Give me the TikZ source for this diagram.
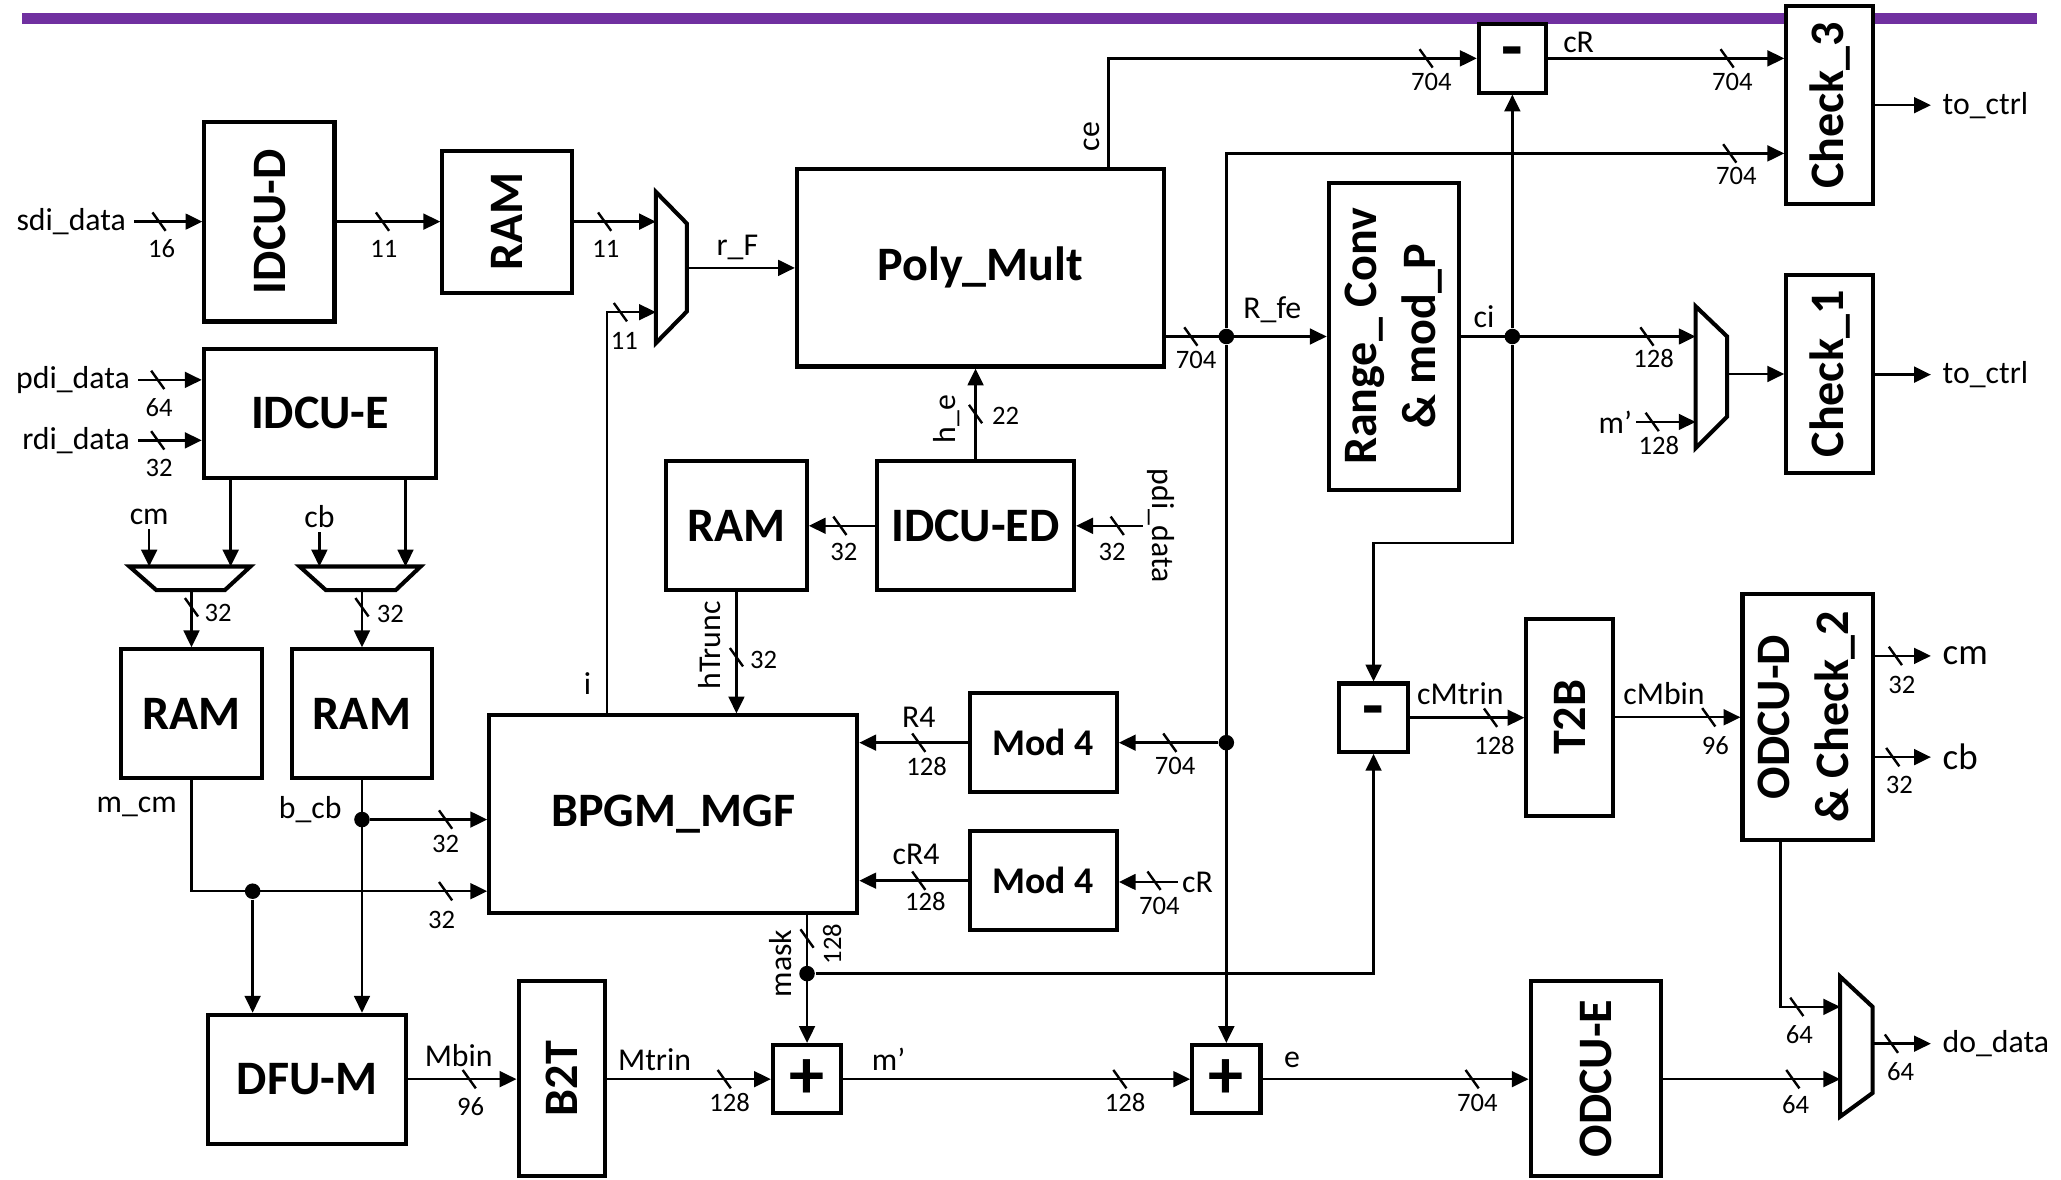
\documentclass[tikz,border=0pt]{standalone}
\usepackage{fontspec}
\setmainfont{Carlito}
\usetikzlibrary{arrows.meta, calc}
\definecolor{barpurple}{RGB}{112,48,160}
\newcommand{\bustick}[2]{\draw[wire] (#1,#2) ++(-5,-7) -- ++(10,14);}

\begin{document}
\begin{tikzpicture}[
    x=0.0125cm, y=-0.0125cm, >={Triangle[length=1.6mm, width=1.5mm]},
    wire/.style={line width=0.65pt},
    blk/.style={draw, line width=1.1pt, fill=white, inner sep=0pt, align=center, font=\fontsize{13}{16}\selectfont\bfseries},
    sz/.style 2 args={minimum width=#1*0.0125cm, minimum height=#2*0.0125cm},
    op/.style={blk, font=\fontsize{19}{20}\selectfont\bfseries},
    mux/.style={draw, line width=1.1pt, fill=white},
    sig/.style={inner sep=1pt, font=\fontsize{8.6}{10}\selectfont},
    wd/.style={inner sep=0.5pt, font=\fontsize{7.2}{8.5}\selectfont},
    lin/.style={sig, anchor=east, inner xsep=2pt},
    lout/.style={sig, anchor=west, inner xsep=3pt},
    dot/.style={circle, fill, inner sep=0pt, minimum size=4.2pt}
]
\useasboundingbox (0,0) rectangle (1568,897);
\fill[barpurple] (17,9.6) rectangle (1550,18.3);

\node[blk, sz={99}{152}] (idcud) at (205,168.6) {\rotatebox{90}{IDCU-D}};
\node[blk, sz={99}{108}] (ramd) at (386,168.6) {\rotatebox{90}{RAM}};
\node[blk, sz={177}{98}] (idcue) at (243.5,314.5) {IDCU-E};
\node[blk, sz={279}{150}] (poly) at (745.8,203.8) {Poly\_Mult};
\node[blk, sz={107}{98}] (rame) at (560.3,400) {RAM};
\node[blk, sz={150}{98}] (idcued) at (742.2,400) {IDCU-ED};
\node[blk, sz={99}{234}] (rng) at (1060.4,256) {\rotatebox{90}{\begin{tabular}{@{}c@{}}Range\_ Conv\\\& mod\_P\end{tabular}}};
\node[op, sz={51}{52}] (subc) at (1150.6,44.4) {-};
\node[blk, sz={66}{151}] (chk3) at (1392,80) {\rotatebox{90}{Check\_3}};
\node[blk, sz={66}{150}] (chk1) at (1392,284.5) {\rotatebox{90}{Check\_1}};
\node[blk, sz={107}{98}] (ramm) at (145.7,543) {RAM};
\node[blk, sz={107}{98}] (ramb) at (275.4,543) {RAM};
\node[blk, sz={280}{150}] (bpgm) at (512.2,619.3) {BPGM\_MGF};
\node[blk, sz={112}{75}, font=\fontsize{10.2}{12}\selectfont\bfseries] (moda) at (793.7,565) {Mod 4};
\node[blk, sz={112}{75}, font=\fontsize{10.2}{12}\selectfont\bfseries] (modb) at (793.7,670) {Mod 4};
\node[blk, sz={151}{98}] (dfum) at (233.6,821) {DFU-M};
\node[blk, sz={66}{149}] (b2t) at (427.5,820.5) {\rotatebox{90}{B2T}};
\node[op, sz={52}{52}] (adda) at (614,821) {+};
\node[op, sz={52}{52}] (addb) at (933,821) {+};
\node[blk, sz={99}{149}] (odcue) at (1214,820.5) {\rotatebox{90}{ODCU-E}};
\node[op, sz={52}{52}] (subb) at (1045,546) {-};
\node[blk, sz={66}{150}] (t2b) at (1194.3,545.7) {\rotatebox{90}{T2B}};
\node[blk, sz={99}{187}] (odcud) at (1375.2,545.5) {\rotatebox{90}{\begin{tabular}{@{}c@{}}ODCU-D\\\& Check\_2\end{tabular}}};

% muxes
\draw[mux] (499,146) -- (522.5,170) -- (522.5,237) -- (499,261) -- cycle;
\coordinate (m1a) at (499,168.6);
\coordinate (m1b) at (499,237.5);
\coordinate (m1o) at (522.5,203.8);
\draw[mux] (1290,233) -- (1314,256) -- (1314,317) -- (1290,341) -- cycle;
\coordinate (m2a) at (1290,256);
\coordinate (m2b) at (1290,321);
\coordinate (m2o) at (1314,284.5);
\draw[mux] (1400,743) -- (1424.7,766) -- (1424.7,831.5) -- (1400,849.5) -- cycle;
\coordinate (m3a) at (1400,766);
\coordinate (m3b) at (1400,821);
\coordinate (m3o) at (1424.7,794);
\draw[mux] (98.5,431) -- (190.5,431) -- (171,449) -- (119,449) -- cycle;
\coordinate (mcma) at (113.5,431);
\coordinate (mcmb) at (175.5,431);
\coordinate (mcmo) at (145.7,449);
\draw[mux] (228,431) -- (320,431) -- (301,449) -- (248,449) -- cycle;
\coordinate (mcba) at (243,431);
\coordinate (mcbb) at (308.5,431);
\coordinate (mcbo) at (275.4,449);

\coordinate (ibend) at (462,237.5);
\coordinate (cebend) at (843.3,44.4);
\coordinate (c3in) at (1392,116.7);
\coordinate (cibend) at (1045,413.3);

\node[dot] (drfe) at (933,256) {};
\node[dot] (dmod) at (933,565) {};
\node[dot] (dci) at (1150.6,256) {};
\node[dot] (dm) at (192.2,678) {};
\node[dot] (db) at (275.4,623.5) {};
\node[dot] (dmask) at (614,740.7) {};

% signal names
\node[lin] (sdi) at (102,168.6) {sdi\_data};
\node[lin] (pdi) at (105,289) {pdi\_data};
\node[lin] (rdi) at (105,335) {rdi\_data};
\node[sig] (rf) at (561,188) {r\_F};
\node[sig, rotate=90] (ce) at (831,104) {ce};
\node[sig] (rfe) at (968,236) {R\_fe};
\node[sig] (crtop) at (1201,32) {cR};
\node[sig] (ci) at (1129,241) {ci};
\node[lin, inner xsep=1pt] (mp2) at (1245,321) {m’};
\node[lout] (toc3) at (1469,80) {to\_ctrl};
\node[lout] (toc1) at (1469,285) {to\_ctrl};
\node[sig] (cmin) at (113.5,393) {cm};
\node[sig] (cbin) at (243,393) {cb};
\node[sig, rotate=90] (he) at (720,319) {h\_e};
\node[sig, rotate=-90] (pdied) at (883,400) {pdi\_data};
\node[sig, rotate=90] (htr) at (540,491) {hTrunc};
\node[sig] (ilbl) at (447,520) {i};
\node[sig] (mcm) at (104,614) {m\_cm};
\node[sig] (bcb) at (236,616) {b\_cb};
\node[sig] (rfour) at (699,546) {R4};
\node[sig] (crfour) at (697,650) {cR4};
\node[sig] (crin) at (911,671) {cR};
\node[sig, rotate=90] (mask) at (594,733) {mask};
\node[sig] (mbin) at (349,803) {Mbin};
\node[sig] (mtrin) at (498,806) {Mtrin};
\node[sig] (mp) at (676,806) {m’};
\node[sig] (esig) at (983,806) {e};
\node[sig] (cmtrin) at (1111,528) {cMtrin};
\node[sig] (cmbin) at (1266,528) {cMbin};
\node[lout, font=\fontsize{10}{12}\selectfont] (cmout) at (1469,499) {cm};
\node[lout, font=\fontsize{10}{12}\selectfont] (cbout) at (1469,576) {cb};
\node[lout] (dodata) at (1469,794) {do\_data};

% bus widths
\bustick{121}{168.6} \node[wd] (w1) at (123,189) {16};
\bustick{291}{168.6} \node[wd] (w2) at (292,189) {11};
\bustick{460}{168.6} \node[wd] (w3) at (461,189) {11};
\bustick{472}{237.5} \node[wd] (w4) at (475,259) {11};
\bustick{120}{289} \node[wd] (w5) at (121,310) {64};
\bustick{120}{335} \node[wd] (w6) at (121,356) {32};
\bustick{145.7}{462} \node[wd] (w7) at (166,466) {32};
\bustick{275.4}{462} \node[wd] (w8) at (297,467) {32};
\bustick{339}{623.5} \node[wd] (w9) at (339,642) {32};
\bustick{339}{678} \node[wd] (w10) at (336,700) {32};
\bustick{357}{821} \node[wd] (w11) at (358,842) {96};
\bustick{551}{821} \node[wd] (w12) at (555,839) {128};
\bustick{852}{821} \node[wd] (w13) at (856,839) {128};
\bustick{1120}{821} \node[wd] (w14) at (1124,839) {704};
\bustick{1364}{821} \node[wd] (w15) at (1366,840) {64};
\bustick{1367}{766} \node[wd] (w16) at (1369,787) {64};
\bustick{1439}{794} \node[wd] (w17) at (1446,815) {64};
\bustick{1442}{499} \node[wd] (w18) at (1447,521) {32};
\bustick{1440}{576} \node[wd] (w19) at (1445,597) {32};
\bustick{1134}{546} \node[wd] (w20) at (1137,567) {128};
\bustick{1300}{545.7} \node[wd] (w21) at (1305,567) {96};
\bustick{614}{714} \node[wd, rotate=90] (w22) at (633,718) {128};
\bustick{699}{565} \node[wd] (w23) at (705,583) {128};
\bustick{699}{670} \node[wd] (w24) at (704,686) {128};
\bustick{890}{565} \node[wd] (w25) at (894,583) {704};
\bustick{878}{670} \node[wd] (w26) at (882,689) {704};
\bustick{639}{400} \node[wd] (w27) at (642,420) {32};
\bustick{850}{400} \node[wd] (w28) at (846,420) {32};
\bustick{742.2}{315} \node[wd] (w29) at (765,316) {22};
\bustick{560.3}{500} \node[wd] (w30) at (581,502) {32};
\bustick{906}{256} \node[wd] (w31) at (910,274) {704};
\bustick{1253}{256} \node[wd] (w32) at (1258,273) {128};
\bustick{1257}{321} \node[wd] (w33) at (1262,339) {128};
\bustick{1085}{44.4} \node[wd] (w34) at (1089,62) {704};
\bustick{1314}{44.4} \node[wd] (w35) at (1318,62) {704};
\bustick{1316}{116.7} \node[wd] (w36) at (1321,134) {704};

% connections
\draw[wire,->] (sdi.east) -- (sdi.east -| idcud.west);
\draw[wire,->] (idcud.east) -- (ramd.west);
\draw[wire,->] (ramd.east) -- (m1a);
\draw[wire,->] (m1o) -- (poly.west);
\draw[wire,->] (bpgm.north -| ibend) -- (ibend) -- (m1b);
\draw[wire,->] (poly.north -| cebend) -- (cebend) -- (subc.west);
\draw[wire,->] (poly.east |- drfe) -- (rng.west |- drfe);
\draw[wire,->] (drfe) |- (chk3.west |- c3in);
\draw[wire,->] (drfe) -- (addb.north);
\draw[wire,->] (dmod) -- (moda.east);
\draw[wire,->] (moda.west) -- (moda.west -| bpgm.east);
\draw[wire,->] (modb.west) -- (modb.west -| bpgm.east);
\draw[wire,->] (crin.west) -- (crin.west -| modb.east);
\draw[wire,->] (rng.east |- dci) -- (m2a);
\draw[wire,->] (dci) -- (subc.south);
\draw[wire,->] (dci) |- (cibend) -- (subb.north);
\draw[wire,->] (subc.east) -- (subc.east -| chk3.west);
\draw[wire,->] (chk3.east) -- (toc3.west);
\draw[wire,->] (mp2.east) -- (m2b);
\draw[wire,->] (m2o) -- (m2o -| chk1.west);
\draw[wire,->] (chk1.east |- toc1) -- (toc1.west);
\draw[wire,->] (pdi.east) -- (pdi.east -| idcue.west);
\draw[wire,->] (rdi.east) -- (rdi.east -| idcue.west);
\draw[wire,->] (idcue.south -| mcmb) -- (mcmb);
\draw[wire,->] (idcue.south -| mcbb) -- (mcbb);
\draw[wire,->] (cmin.south) -- (mcma);
\draw[wire,->] (cbin.south) -- (mcba);
\draw[wire,->] (mcmo) -- (ramm.north);
\draw[wire,->] (mcbo) -- (ramb.north);
\draw[wire,->] (ramm.south) |- (dm.center) -- (dm.center -| bpgm.west);
\draw[wire,->] (dm) -- (dm |- dfum.north);
\draw[wire,->] (ramb.south) -- (ramb.south |- dfum.north);
\draw[wire,->] (db) -- (db -| bpgm.west);
\draw[wire,->] (dfum.east) -- (dfum.east -| b2t.west);
\draw[wire,->] (b2t.east |- adda) -- (adda.west);
\draw[wire,->] (adda.east) -- (addb.west);
\draw[wire,->] (addb.east) -- (addb.east -| odcue.west);
\draw[wire,->] (odcue.east |- m3b) -- (m3b);
\draw[wire,->] (bpgm.south -| dmask) -- (adda.north);
\draw[wire,->] (dmask) -| (subb.south);
\draw[wire,->] (subb.east) -- (subb.east -| t2b.west);
\draw[wire,->] (t2b.east) -- (t2b.east -| odcud.west);
\draw[wire,->] (odcud.east |- cmout) -- (cmout.west);
\draw[wire,->] (odcud.east |- cbout) -- (cbout.west);
\draw[wire,->] ($(odcud.south)+(-20.7,0)$) |- (m3a);
\draw[wire,->] (m3o) -- (dodata.west);
\draw[wire,->] (idcued.west) -- (rame.east);
\draw[wire,->] (pdied.south) -- (pdied.south -| idcued.east);
\draw[wire,->] (idcued.north) -- (idcued.north |- poly.south);
\draw[wire,->] (rame.south) -- (rame.south |- bpgm.north);
\end{tikzpicture}
\end{document}
